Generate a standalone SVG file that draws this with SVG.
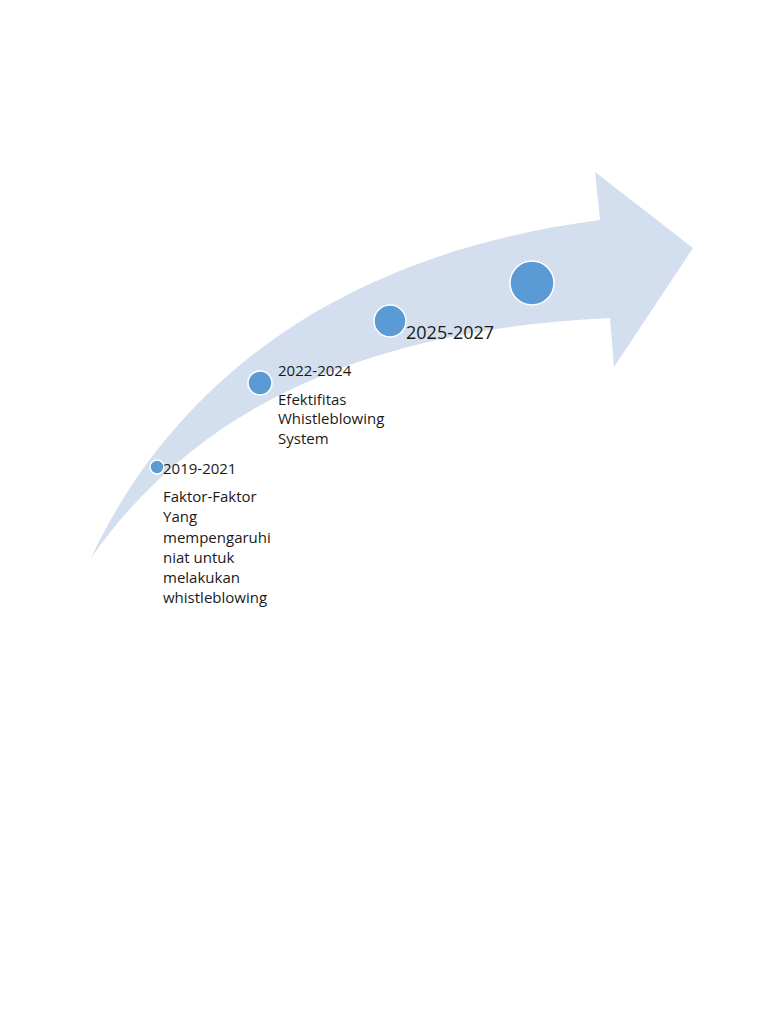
<svg xmlns="http://www.w3.org/2000/svg" width="768" height="1024" viewBox="0 0 768 1024">
<style>
.t{font-family:"Open Sans","Liberation Sans",sans-serif;font-size:15px;fill:#1a1a1a}
.big{font-size:18px}
.dot{fill:#5b9bd5;stroke:#ffffff;stroke-width:1.5}
</style>
<rect width="768" height="1024" fill="#ffffff"/>
<g id="arrow">
<path d="M91,558 C170,390 330,255 600,220 L595,172 L693,248 L614,367 L610,318 C400,328 210,388 91,558 Z" fill="#d3deef"/>
</g>
<g id="connectors"></g>
<g id="node-2019">
<circle class="dot" cx="157" cy="467" r="7"/>
<text class="t" x="163" y="474">2019-2021</text>
<text class="t" x="163" y="502">Faktor-Faktor</text>
<text class="t" x="163" y="522">Yang</text>
<text class="t" x="163" y="543">mempengaruhi</text>
<text class="t" x="163" y="563">niat untuk</text>
<text class="t" x="163" y="583">melakukan</text>
<text class="t" x="163" y="603">whistleblowing</text>
</g>
<g id="node-2022">
<circle class="dot" cx="260" cy="383" r="12"/>
<text class="t" x="278" y="376">2022-2024</text>
<text class="t" x="278" y="405">Efektifitas</text>
<text class="t" x="278" y="424">Whistleblowing</text>
<text class="t" x="278" y="444">System</text>
</g>
<g id="node-2025">
<circle class="dot" cx="390" cy="321" r="16"/>
<text class="t big" x="406" y="339">2025-2027</text>
</g>
<g id="node-future">
<circle class="dot" cx="532" cy="283" r="22"/>
</g>
</svg>
